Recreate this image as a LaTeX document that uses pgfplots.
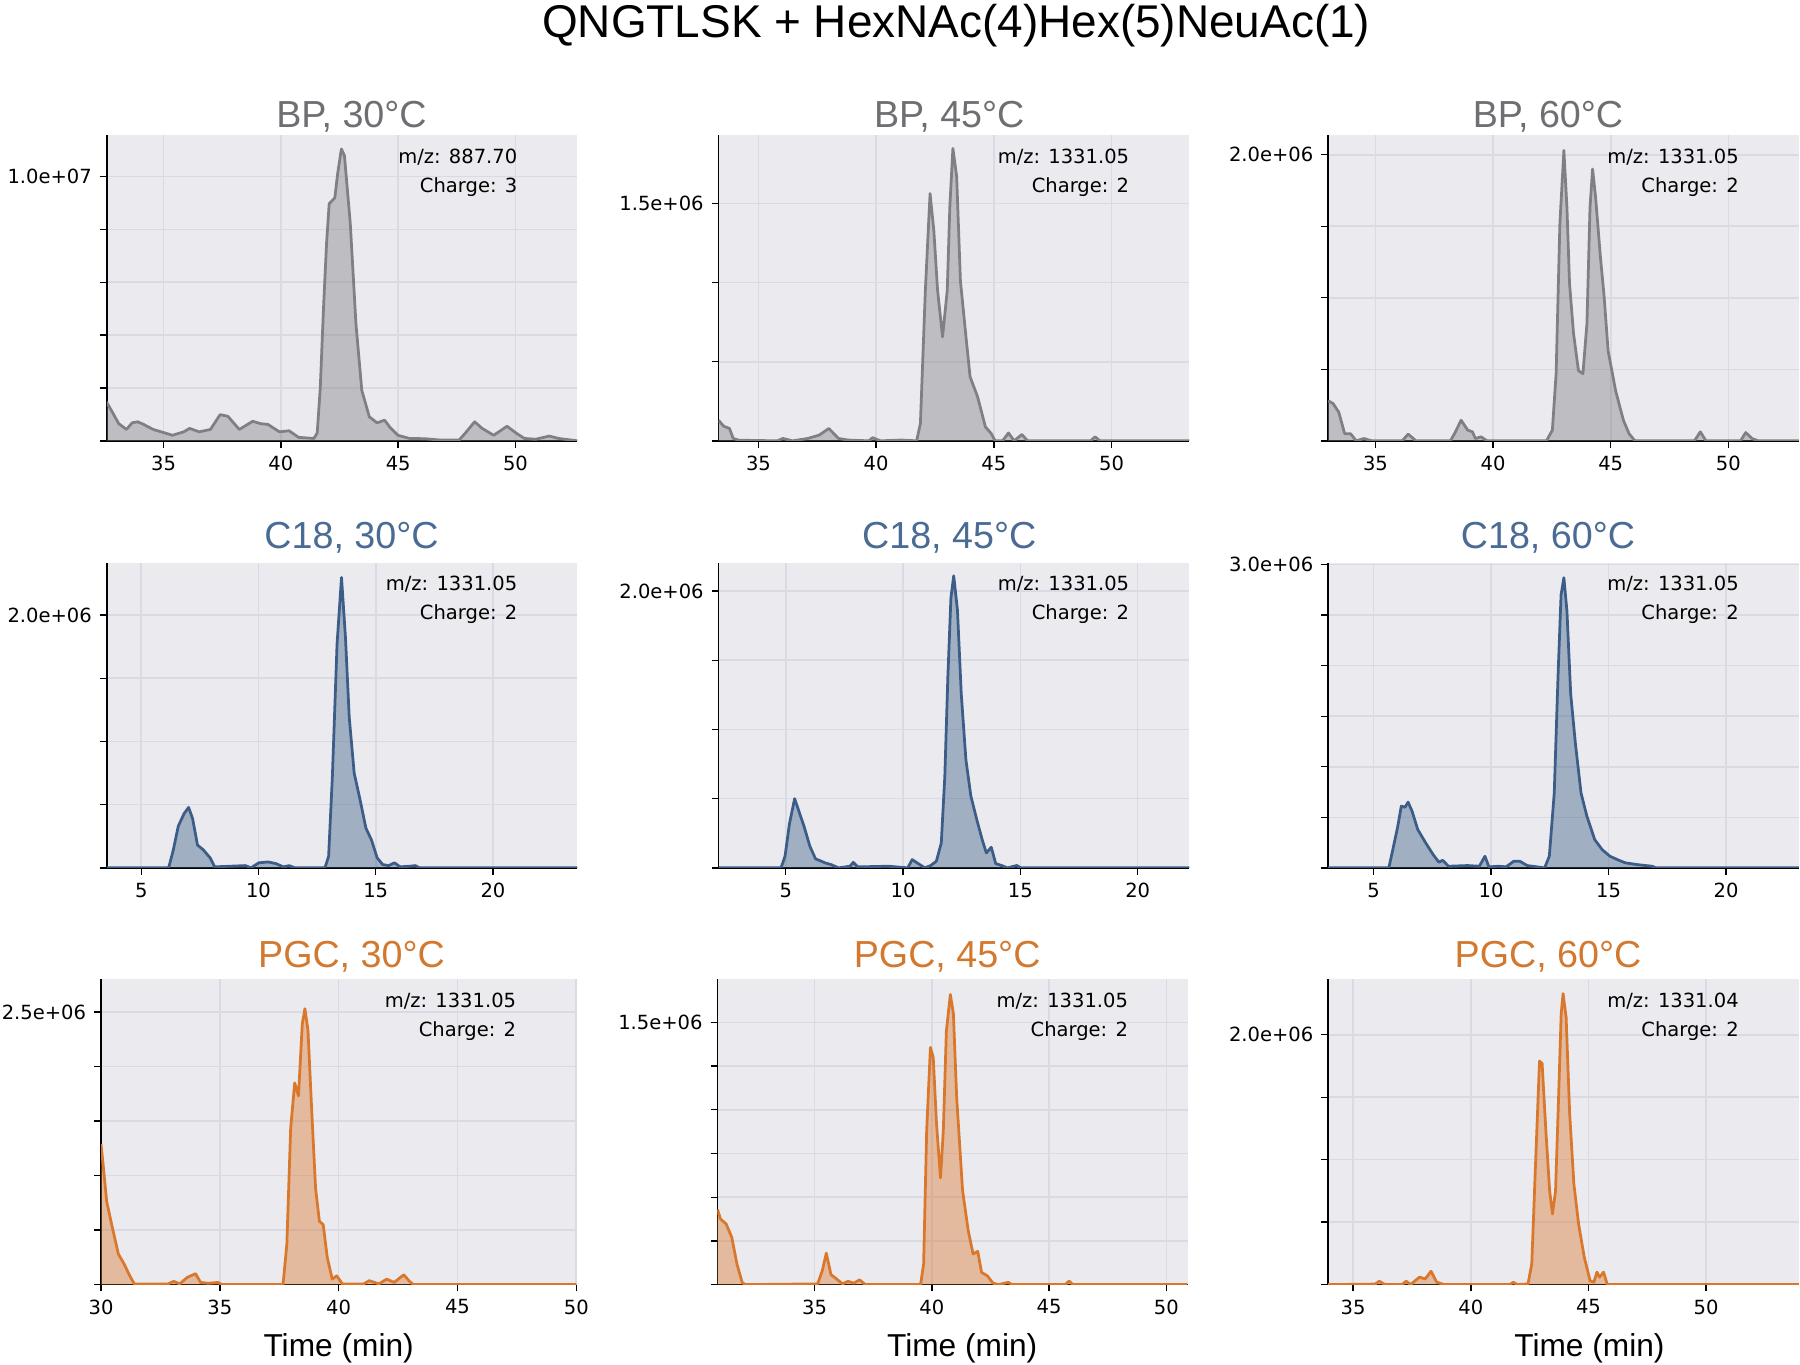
\documentclass[border=0pt]{standalone}
\usepackage{fontspec}
\setmainfont{Liberation Sans}
\newfontfamily\dejavu{DejaVu Sans}
\usepackage{pgfplots}
\usepackage{pgfplotstable}
\pgfplotsset{compat=1.18}

\definecolor{bgc}{HTML}{EBEBEF}
\definecolor{gridc}{HTML}{DADAE4}
\definecolor{bpl}{HTML}{7F7F86}
\definecolor{bpt}{HTML}{6E6E73}
\definecolor{c18l}{HTML}{3C5D87}
\definecolor{c18t}{HTML}{4A6B94}
\definecolor{pgcl}{HTML}{D9782D}
\definecolor{pgct}{HTML}{D2792F}

\pgfplotstableread{
x y
32.57 1.47
32.77 1.16
33.09 0.65
33.42 0.43
33.66 0.68
33.90 0.72
34.15 0.62
34.56 0.43
35.05 0.30
35.38 0.21
35.86 0.34
36.11 0.47
36.52 0.34
37.00 0.43
37.41 0.99
37.74 0.93
38.23 0.43
38.80 0.74
39.13 0.65
39.45 0.62
39.94 0.34
40.35 0.38
40.76 0.13
41.41 0.09
41.55 0.30
41.68 2.00
41.82 5.06
41.95 7.50
42.06 8.97
42.30 9.19
42.42 10.10
42.58 11.04
42.71 10.79
42.96 8.21
43.20 4.43
43.45 1.91
43.77 0.91
44.10 0.68
44.42 0.78
44.67 0.49
44.99 0.21
45.48 0.09
46.14 0.08
46.79 0.03
47.60 0.03
47.85 0.28
48.26 0.72
48.58 0.47
49.07 0.21
49.64 0.55
50.05 0.28
50.38 0.09
50.86 0.06
51.44 0.18
51.84 0.09
52.64 0.00
}\tBPa

\pgfplotstableread{
x y
33.31 0.13
33.52 0.093
33.77 0.078
33.93 0.015
34.17 0.004
35.80 0.0
36.04 0.015
36.45 0.0
37.10 0.015
37.58 0.036
37.99 0.078
38.40 0.015
38.80 0.005
39.69 0.0
39.85 0.02
40.18 0.0
41.07 0.005
41.72 0.0
41.88 0.11
42.09 0.95
42.29 1.563
42.45 1.33
42.61 0.95
42.82 0.657
43.02 0.95
43.13 1.48
43.26 1.848
43.42 1.67
43.58 1.01
43.83 0.636
43.99 0.405
44.31 0.278
44.64 0.088
44.89 0.046
45.05 0.0
45.37 0.0
45.62 0.05
45.86 0.0
46.19 0.04
46.43 0.0
49.11 0.0
49.30 0.025
49.51 0.0
53.30 0.0
}\tBPb

\pgfplotstableread{
x y
32.99 0.28
33.20 0.26
33.44 0.20
33.69 0.05
33.94 0.05
34.18 0.0
34.51 0.016
34.84 0.0
36.14 0.0
36.39 0.047
36.72 0.0
38.19 0.0
38.40 0.063
38.64 0.144
38.92 0.075
39.12 0.063
39.25 0.016
39.49 0.028
39.74 0.0
42.27 0.0
42.52 0.075
42.68 0.47
42.84 1.52
43.01 2.03
43.14 1.63
43.25 1.10
43.42 0.75
43.63 0.49
43.82 0.47
43.99 0.82
44.12 1.63
44.23 1.90
44.36 1.70
44.56 1.29
44.72 1.01
44.89 0.63
45.21 0.35
45.54 0.144
45.78 0.05
46.03 0.0
48.56 0.0
48.81 0.063
49.05 0.0
50.52 0.0
50.74 0.058
51.01 0.016
51.27 0.0
53.00 0.0
}\tBPc

\pgfplotstableread{
x y
3.53 0
6.17 0
6.37 0.144
6.58 0.33
6.83 0.43
7.02 0.478
7.19 0.39
7.40 0.18
7.64 0.144
7.94 0.079
8.13 0.008
9.44 0.018
9.68 0
10.01 0.04
10.41 0.047
10.74 0.034
11.06 0.008
11.31 0.018
11.55 0
12.83 0
12.99 0.09
13.15 0.72
13.35 1.77
13.54 2.297
13.71 1.82
13.87 1.19
14.08 0.75
14.33 0.54
14.58 0.315
14.82 0.22
15.06 0.079
15.30 0.026
15.55 0.018
15.80 0.04
16.04 0.008
16.45 0.013
16.69 0.018
16.86 0
23.60 0
}\tCa

\pgfplotstableread{
x y
2.14 0
4.80 0
4.97 0.084
5.16 0.32
5.38 0.50
5.54 0.42
5.78 0.30
6.03 0.156
6.27 0.065
6.52 0.048
6.68 0.036
6.93 0.024
7.25 0
7.74 0.012
7.88 0.04
8.07 0.007
9.38 0.012
10.20 0
10.39 0.06
10.60 0.036
10.93 0
11.18 0.017
11.42 0.048
11.63 0.18
11.78 0.66
11.91 1.38
12.04 1.95
12.16 2.11
12.32 1.86
12.48 1.26
12.68 0.78
12.89 0.52
13.14 0.35
13.38 0.20
13.55 0.108
13.76 0.149
13.95 0.031
14.20 0.017
14.45 0
14.85 0.017
15.02 0
22.20 0
}\tCb

\pgfplotstableread{
x y
3.07 0
5.65 0
5.82 0.18
6.03 0.41
6.18 0.61
6.34 0.60
6.47 0.65
6.64 0.56
6.88 0.38
7.21 0.25
7.54 0.13
7.78 0.056
7.94 0.075
8.19 0.016
9.00 0.023
9.50 0.016
9.74 0.115
9.91 0.01
10.32 0.016
10.64 0.01
10.97 0.066
11.22 0.066
11.54 0.023
12.28 0
12.48 0.115
12.69 0.74
12.85 1.89
12.98 2.70
13.10 2.87
13.23 2.54
13.39 1.72
13.59 1.23
13.83 0.74
14.08 0.51
14.41 0.28
14.73 0.18
15.06 0.115
15.39 0.08
15.71 0.05
16.20 0.033
16.86 0.016
17.02 0
23.10 0
}\tCc

\pgfplotstableread{
x y
30.00 1.29
30.08 1.12
30.24 0.76
30.48 0.52
30.73 0.28
30.97 0.19
31.21 0.08
31.40 0.006
32.82 0.006
33.06 0.03
33.31 0.006
33.63 0.066
33.98 0.10
34.19 0.02
34.52 0.012
34.92 0.02
35.08 0
37.66 0
37.82 0.37
37.98 1.43
38.15 1.85
38.31 1.73
38.47 2.39
38.58 2.53
38.71 2.33
38.87 1.58
39.03 0.88
39.19 0.58
39.35 0.55
39.52 0.25
39.73 0.05
39.92 0.08
40.16 0.006
41.05 0.006
41.29 0.036
41.69 0.006
42.02 0.05
42.34 0.02
42.74 0.09
42.98 0.03
43.15 0
50.00 0
}\tPa

\pgfplotstableread{
x y
30.86 0.43
30.99 0.375
31.23 0.347
31.47 0.27
31.69 0.118
31.91 0.013
32.04 0
35.13 0.004
35.33 0.08
35.50 0.18
35.70 0.057
35.94 0.032
36.19 0.004
36.43 0.019
36.67 0.008
36.92 0.027
37.16 0
39.52 0
39.65 0.118
39.78 0.88
39.94 1.357
40.06 1.30
40.20 0.92
40.37 0.61
40.49 0.88
40.62 1.45
40.79 1.66
40.92 1.55
41.06 1.07
41.31 0.54
41.55 0.31
41.76 0.175
41.96 0.19
42.12 0.07
42.37 0.05
42.61 0.008
42.85 0
43.26 0.013
43.42 0
45.69 0
45.85 0.02
46.02 0
50.90 0
}\tPb

\pgfplotstableread{
x y
33.94 0
35.94 0.004
36.11 0.027
36.35 0
37.08 0
37.25 0.027
37.44 0
37.82 0.06
38.06 0.045
38.31 0.107
38.55 0.019
38.88 0
41.65 0
41.81 0.019
41.97 0
42.43 0.005
42.59 0.165
42.75 0.965
42.92 1.79
43.03 1.77
43.19 1.23
43.35 0.75
43.47 0.565
43.60 0.75
43.73 1.50
43.84 2.17
43.92 2.33
44.05 2.14
44.20 1.37
44.38 0.805
44.58 0.485
44.82 0.22
45.07 0.03
45.23 0.019
45.36 0.1
45.47 0.059
45.64 0.1
45.80 0
53.94 0
}\tPc

\tikzset{anno/.style={font=\dejavu\fontsize{8.5bp}{10bp}\selectfont, anchor=east, inner sep=0pt}}

\pgfplotsset{
  panel/.style={
    scale only axis, width=205bp, height=133bp, anchor=north west,
    axis background/.style={fill=bgc},
    axis x line*=bottom, axis y line*=left,
    axis line style={black, line width=0.7bp, -},
    grid=major, major grid style={gridc, line width=0.7bp},
    tick align=outside, major tick length=3bp,
    tick style={black, line width=0.6bp},
    ymin=0, xtick distance=5,
    /pgf/number format/assume math mode=true,
    ticklabel style={font=\dejavu\fontsize{8.5bp}{10bp}\selectfont},
    title style={anchor=base, inner sep=0pt, font=\fontsize{16.4bp}{19bp}\selectfont},
    xlabel style={font=\fontsize{13.8bp}{16bp}\selectfont},
    clip=true,
  },
  bpfill/.style={fill=bpl, fill opacity=0.42, draw=none, forget plot},
  bpline/.style={bpl, line width=1.2bp, line join=round, forget plot},
  cfill/.style={fill=c18l, fill opacity=0.42, draw=none, forget plot},
  cline/.style={c18l, line width=1.2bp, line join=round, forget plot},
  pfill/.style={fill=pgcl, fill opacity=0.42, draw=none, forget plot},
  pline/.style={pgcl, line width=1.2bp, line join=round, forget plot},
}

\begin{document}
\begin{tikzpicture}
\path[use as bounding box] (0,0) rectangle (784bp,-594.5bp);
\node[anchor=base, inner sep=0pt, font=\fontsize{20bp}{24bp}\selectfont] at (416.5bp,-16.5bp) {QNGTLSK + HexNAc(4)Hex(5)NeuAc(1)};

% Row 1: BP
\begin{axis}[panel, at={(46.5bp,-59bp)}, xmin=32.58, xmax=52.64, ymax=11.55,
  ytick={0,2,4,6,8,10}, yticklabels={,,,,,1.0e+07},
  title={BP, 30°C}, title style={at={(0.52,1)}, yshift=-2.5bp, text=bpt}]
\addplot[bpfill] table {\tBPa} \closedcycle;
\addplot[bpline] table {\tBPa};
\node[anno] at (rel axis cs:1,1) [xshift=-26bp, yshift=-9.5bp] {m/z: 887.70};
\node[anno] at (rel axis cs:1,1) [xshift=-26bp, yshift=-22.5bp] {Charge: 3};
\end{axis}

\begin{axis}[panel, at={(313bp,-59bp)}, xmin=33.31, xmax=53.3, ymax=1.93,
  ytick={0,0.5,1,1.5}, yticklabels={,,,1.5e+06},
  title={BP, 45°C}, title style={at={(0.49,1)}, yshift=-2.5bp, text=bpt}]
\addplot[bpfill] table {\tBPb} \closedcycle;
\addplot[bpline] table {\tBPb};
\node[anno] at (rel axis cs:1,1) [xshift=-26bp, yshift=-9.5bp] {m/z: 1331.05};
\node[anno] at (rel axis cs:1,1) [xshift=-26bp, yshift=-22.5bp] {Charge: 2};
\end{axis}

\begin{axis}[panel, at={(578.5bp,-59bp)}, xmin=32.99, xmax=53.0, ymax=2.135,
  ytick={0,0.5,1,1.5,2}, yticklabels={,,,,2.0e+06},
  title={BP, 60°C}, title style={at={(0.467,1)}, yshift=-2.5bp, text=bpt}]
\addplot[bpfill] table {\tBPc} \closedcycle;
\addplot[bpline] table {\tBPc};
\node[anno] at (rel axis cs:1,1) [xshift=-26bp, yshift=-9.5bp] {m/z: 1331.05};
\node[anno] at (rel axis cs:1,1) [xshift=-26bp, yshift=-22.5bp] {Charge: 2};
\end{axis}

% Row 2: C18
\begin{axis}[panel, at={(46.5bp,-245bp)}, xmin=3.53, xmax=23.6, ymax=2.415,
  ytick={0,0.5,1,1.5,2}, yticklabels={,,,,2.0e+06},
  title={C18, 30°C}, title style={at={(0.52,1)}, yshift=0bp, text=c18t}]
\addplot[cfill] table {\tCa} \closedcycle;
\addplot[cline] table {\tCa};
\node[anno] at (rel axis cs:1,1) [xshift=-26bp, yshift=-9.5bp] {m/z: 1331.05};
\node[anno] at (rel axis cs:1,1) [xshift=-26bp, yshift=-22.5bp] {Charge: 2};
\end{axis}

\begin{axis}[panel, at={(313bp,-245bp)}, xmin=2.14, xmax=22.2, ymax=2.206,
  ytick={0,0.5,1,1.5,2}, yticklabels={,,,,2.0e+06},
  title={C18, 45°C}, title style={at={(0.49,1)}, yshift=0bp, text=c18t}]
\addplot[cfill] table {\tCb} \closedcycle;
\addplot[cline] table {\tCb};
\node[anno] at (rel axis cs:1,1) [xshift=-26bp, yshift=-9.5bp] {m/z: 1331.05};
\node[anno] at (rel axis cs:1,1) [xshift=-26bp, yshift=-22.5bp] {Charge: 2};
\end{axis}

\begin{axis}[panel, at={(578.5bp,-245bp)}, xmin=3.07, xmax=23.1, ymax=3.02,
  ytick={0,0.5,1,1.5,2,2.5,3}, yticklabels={,,,,,,3.0e+06},
  title={C18, 60°C}, title style={at={(0.467,1)}, yshift=0bp, text=c18t}]
\addplot[cfill] table {\tCc} \closedcycle;
\addplot[cline] table {\tCc};
\node[anno] at (rel axis cs:1,1) [xshift=-26bp, yshift=-9.5bp] {m/z: 1331.05};
\node[anno] at (rel axis cs:1,1) [xshift=-26bp, yshift=-22.5bp] {Charge: 2};
\end{axis}

% Row 3: PGC
\begin{axis}[panel, at={(44bp,-426.5bp)}, width=207bp, xmin=30, xmax=50, ymax=2.80,
  ytick={0,0.5,1,1.5,2,2.5}, yticklabels={,,,,,2.5e+06},
  title={PGC, 30°C}, title style={at={(0.527,1)}, yshift=-1bp, text=pgct},
  xlabel={Time (min)}, xlabel style={at={(0.5,0)}, anchor=base, yshift=-31.5bp, inner sep=0pt}]
\addplot[pfill] table {\tPa} \closedcycle;
\addplot[pline] table {\tPa};
\node[anno] at (rel axis cs:1,1) [xshift=-26bp, yshift=-9.5bp] {m/z: 1331.05};
\node[anno] at (rel axis cs:1,1) [xshift=-26bp, yshift=-22.5bp] {Charge: 2};
\end{axis}

\begin{axis}[panel, at={(312.5bp,-426.5bp)}, xmin=30.86, xmax=50.93, ymax=1.747,
  ytick={0,0.25,0.5,0.75,1,1.25,1.5}, yticklabels={,,,,,,1.5e+06},
  title={PGC, 45°C}, title style={at={(0.488,1)}, yshift=-1bp, text=pgct},
  xlabel={Time (min)}, xlabel style={at={(0.52,0)}, anchor=base, yshift=-31.5bp, inner sep=0pt}]
\addplot[pfill] table {\tPb} \closedcycle;
\addplot[pline] table {\tPb};
\node[anno] at (rel axis cs:1,1) [xshift=-26bp, yshift=-9.5bp] {m/z: 1331.05};
\node[anno] at (rel axis cs:1,1) [xshift=-26bp, yshift=-22.5bp] {Charge: 2};
\end{axis}

\begin{axis}[panel, at={(578.5bp,-426.5bp)}, xmin=33.94, xmax=53.94, ymax=2.445,
  ytick={0,0.5,1,1.5,2}, yticklabels={,,,,2.0e+06},
  title={PGC, 60°C}, title style={at={(0.467,1)}, yshift=-1bp, text=pgct},
  xlabel={Time (min)}, xlabel style={at={(0.555,0)}, anchor=base, yshift=-31.5bp, inner sep=0pt}]
\addplot[pfill] table {\tPc} \closedcycle;
\addplot[pline] table {\tPc};
\node[anno] at (rel axis cs:1,1) [xshift=-26bp, yshift=-9.5bp] {m/z: 1331.04};
\node[anno] at (rel axis cs:1,1) [xshift=-26bp, yshift=-22.5bp] {Charge: 2};
\end{axis}
\end{tikzpicture}
\end{document}
